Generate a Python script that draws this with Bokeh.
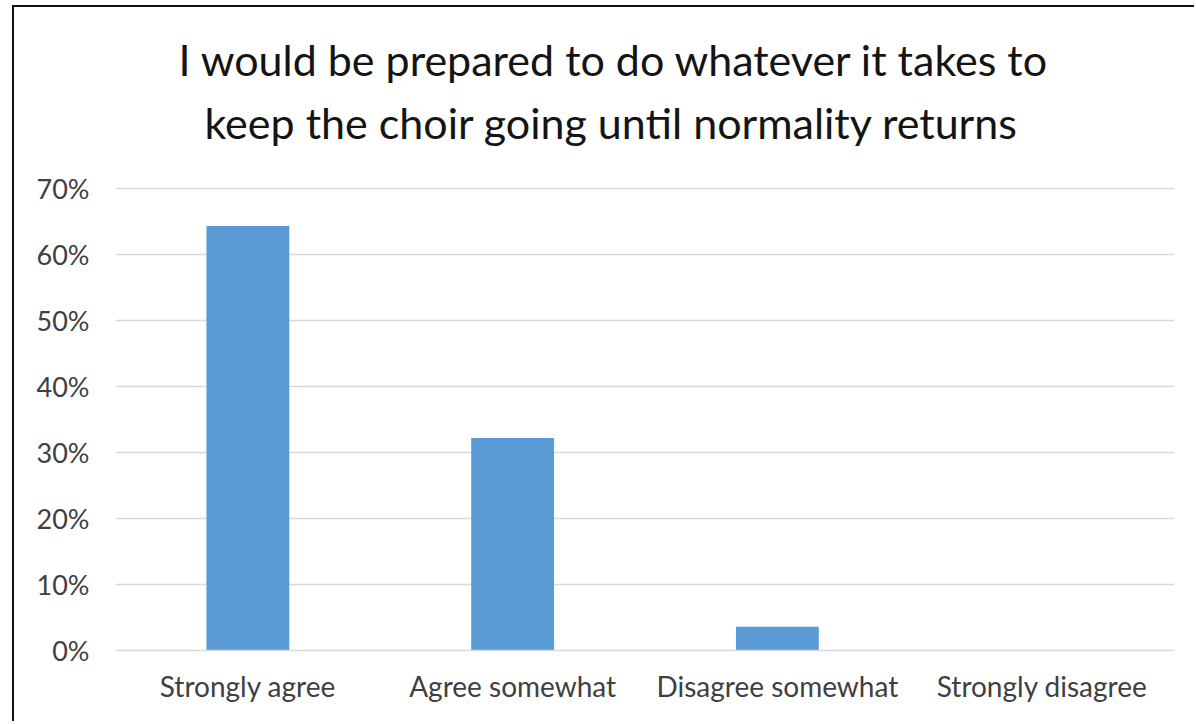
from bokeh.plotting import figure
from bokeh.models import Title, FixedTicker, NumeralTickFormatter, ColumnDataSource
from bokeh.embed import file_html
from bokeh.resources import INLINE

categories = ["Strongly agree", "Agree somewhat", "Disagree somewhat", "Strongly disagree"]
values = [0.643, 0.322, 0.036, 0.0]
y_ticks = [0.0, 0.1, 0.2, 0.3, 0.4, 0.5, 0.6, 0.7]
title_lines = ["I would be prepared to do whatever it takes to",
               "keep the choir going until normality returns"]

FONT = "Lato"

src = ColumnDataSource(data=dict(cat=categories, val=values))

p = figure(x_range=categories, y_range=(0, 0.7015), width=1182, height=716,
           output_backend="svg", toolbar_location=None,
           min_border_left=101, min_border_right=22, min_border_top=180,
           min_border_bottom=73)
p.title = None
p.styles = {"border-left": "2px solid #111111", "border-top": "2px solid #111111",
            "margin-left": "12px", "margin-top": "5px"}

p.vbar(x="cat", top="val", width=0.313, source=src, color="#5B9BD5", line_color=None)

p.add_layout(Title(text=" ", text_font_size="19px", text_font=FONT), "above")
p.add_layout(Title(text=title_lines[1], text_font_size="43px", text_font=FONT,
                   text_font_style="normal", text_color="#141414", align="left",
                   offset=89), "above")
p.add_layout(Title(text=title_lines[0], text_font_size="43px", text_font=FONT,
                   text_font_style="normal", text_color="#141414", align="left",
                   offset=63), "above")

p.yaxis.ticker = FixedTicker(ticks=y_ticks)
p.yaxis.formatter = NumeralTickFormatter(format="0%")
p.yaxis.axis_line_color = None
p.yaxis.major_tick_line_color = None
p.yaxis.minor_tick_line_color = None
p.yaxis.major_tick_out = 0
p.yaxis.major_label_standoff = 26
p.yaxis.major_label_text_font = FONT
p.yaxis.major_label_text_font_size = "27px"
p.yaxis.major_label_text_color = "#404040"

p.xaxis.axis_line_color = "#D9D9D9"
p.xaxis.axis_line_width = 1.5
p.xaxis.major_tick_line_color = None
p.xaxis.minor_tick_line_color = None
p.xaxis.major_tick_out = 0
p.xaxis.major_label_standoff = 18
p.xaxis.major_label_text_font = FONT
p.xaxis.major_label_text_font_size = "28px"
p.xaxis.major_label_text_color = "#404040"

p.xgrid.grid_line_color = None
p.ygrid.grid_line_color = "#D9D9D9"
p.ygrid.grid_line_width = 1.5
p.outline_line_color = None
p.x_range.range_padding = 0

open("out.html", "w").write(file_html(p, INLINE))
